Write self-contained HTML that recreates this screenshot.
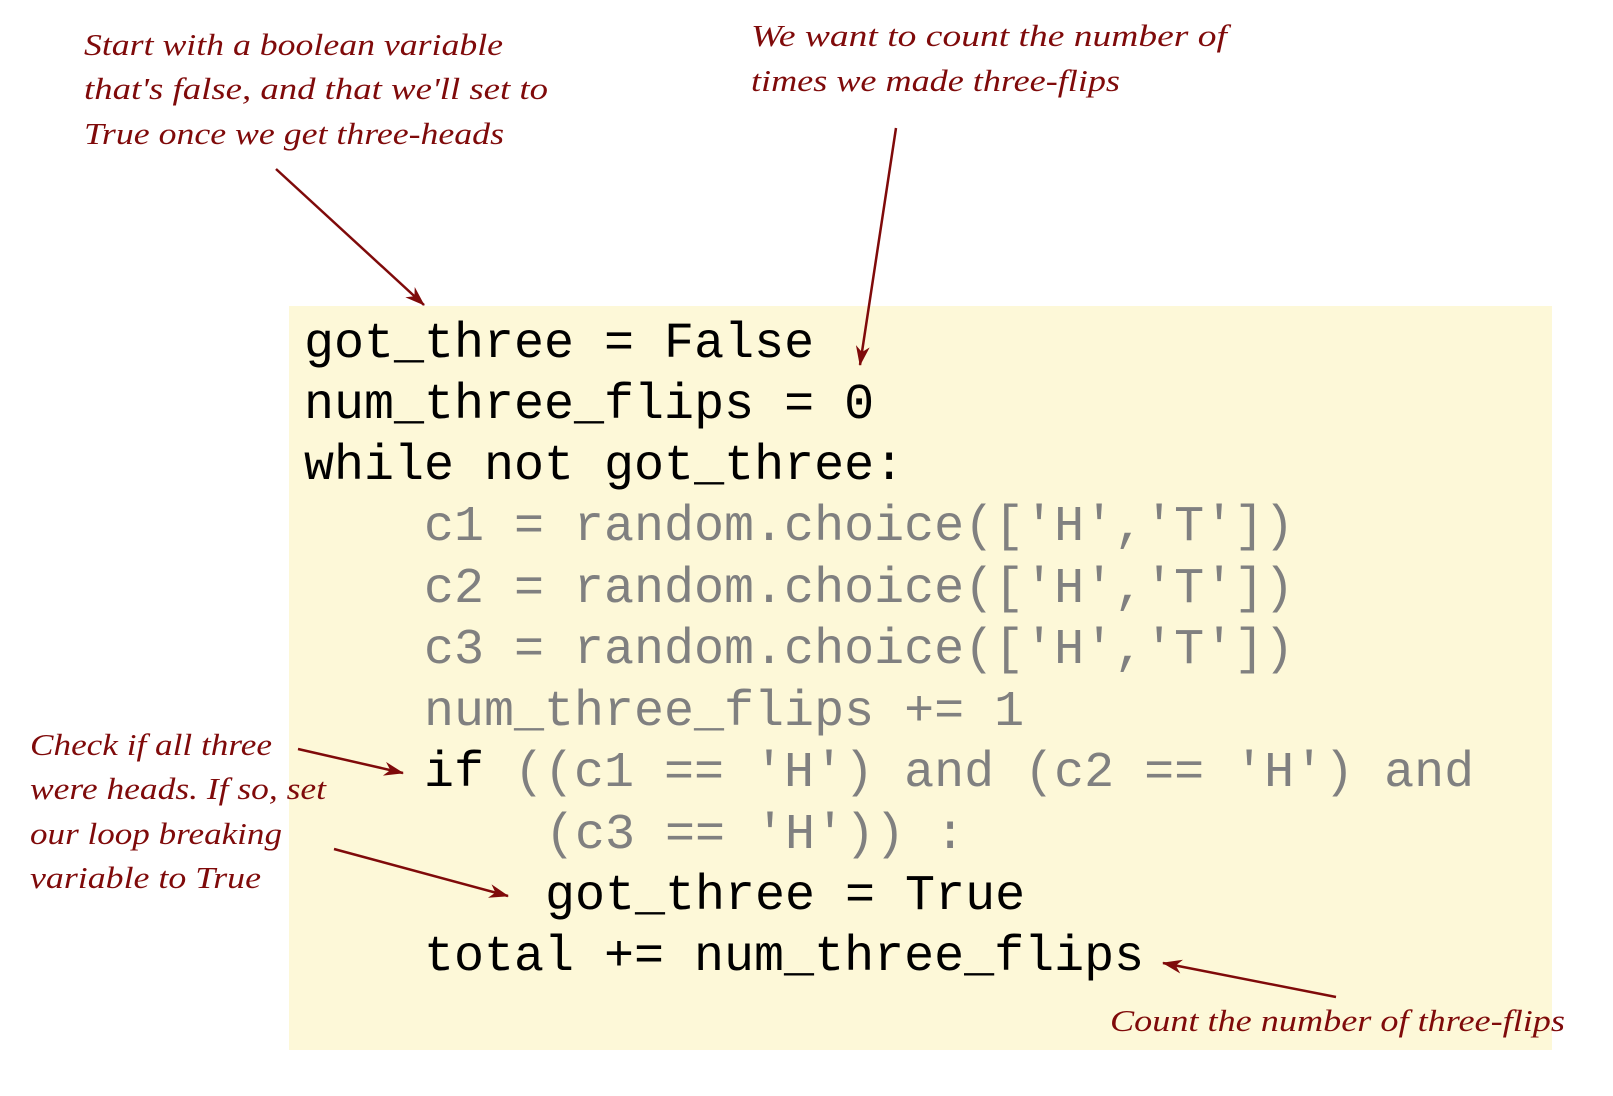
<!DOCTYPE html>
<html><head><meta charset="utf-8"><style>
html,body{margin:0;padding:0;background:#fff;}
svg{display:block;}
.code{font-family:"Liberation Mono",monospace;font-size:50px;white-space:pre;}
.k{fill:#000;} .g{fill:#808080;}
.a{font-family:"Liberation Serif",serif;font-style:italic;font-size:31px;fill:#7f0a0a;}
</style></head><body>
<svg width="1613" height="1096" viewBox="0 0 1613 1096" xmlns="http://www.w3.org/2000/svg">
<defs>
<marker id="ah" viewBox="0 0 20 14" refX="19" refY="7" markerWidth="20" markerHeight="14" markerUnits="userSpaceOnUse" orient="auto">
<path d="M0,0 L20,7 L0,14 L6,7 Z" fill="#7f0a0a"/>
</marker>
</defs>
<rect x="289" y="306" width="1263" height="744" fill="#fdf8d8"/>
<g class="code">
<text x="304" y="357" class="k">got_three = False</text>
<text x="304" y="418" class="k">num_three_flips = 0</text>
<text x="304" y="479" class="k">while not got_three:</text>
<text x="424" y="540" class="g">c1 = random.choice(['H','T'])</text>
<text x="424" y="602" class="g">c2 = random.choice(['H','T'])</text>
<text x="424" y="663" class="g">c3 = random.choice(['H','T'])</text>
<text x="424" y="725" class="g">num_three_flips += 1</text>
<text x="424" y="786" class="k">if</text>
<text x="514" y="786" class="g">((c1 == 'H') and (c2 == 'H') and</text>
<text x="545" y="848" class="g">(c3 == 'H')) :</text>
<text x="545" y="909" class="k">got_three = True</text>
<text x="424" y="970" class="k">total += num_three_flips</text>
</g>
<g class="a">
<text x="84" y="55" textLength="419" lengthAdjust="spacingAndGlyphs">Start with a boolean variable</text>
<text x="84" y="99" textLength="464" lengthAdjust="spacingAndGlyphs">that's false, and that we'll set to</text>
<text x="84" y="144" textLength="420" lengthAdjust="spacingAndGlyphs">True once we get three-heads</text>
<text x="751" y="46" textLength="476" lengthAdjust="spacingAndGlyphs">We want to count the number of</text>
<text x="751" y="91" textLength="369" lengthAdjust="spacingAndGlyphs">times we made three-flips</text>
<text x="30" y="755" textLength="242" lengthAdjust="spacingAndGlyphs">Check if all three</text>
<text x="30" y="799" textLength="296" lengthAdjust="spacingAndGlyphs">were heads. If so, set</text>
<text x="30" y="844" textLength="252" lengthAdjust="spacingAndGlyphs">our loop breaking</text>
<text x="30" y="888" textLength="231" lengthAdjust="spacingAndGlyphs">variable to True</text>
<text x="1110" y="1031" textLength="455" lengthAdjust="spacingAndGlyphs">Count the number of three-flips</text>
</g>
<g stroke="#7f0a0a" stroke-width="2.5" fill="none" marker-end="url(#ah)">
<line x1="276" y1="169" x2="424" y2="305"/>
<line x1="896" y1="128" x2="860" y2="365"/>
<line x1="298" y1="749" x2="403" y2="773"/>
<line x1="334" y1="849" x2="508" y2="896"/>
<line x1="1336" y1="997" x2="1163" y2="963"/>
</g>
</svg>
</body></html>
